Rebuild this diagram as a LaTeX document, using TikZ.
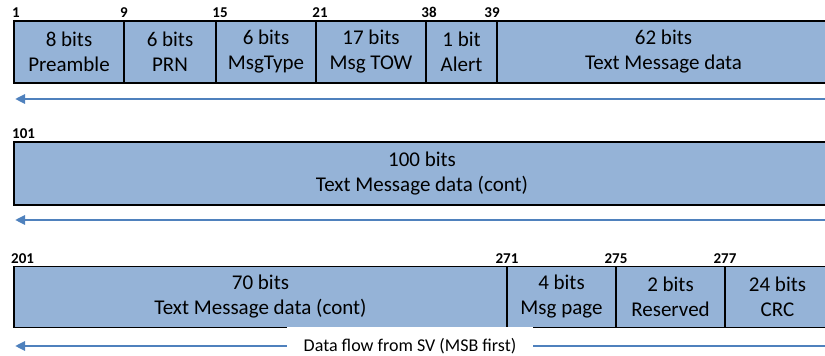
\documentclass[tikz,border=0pt]{standalone}
\usepackage{fontspec}
\setmainfont{Carlito}
\usetikzlibrary{positioning,arrows.meta}
\definecolor{fieldblue}{RGB}{149,179,215}
\definecolor{flowblue}{RGB}{79,129,189}

\begin{document}
\begin{tikzpicture}[
    x=1pt, y=1pt,
    field/.style={rectangle, draw=black, fill=fieldblue, line width=1.8pt, outer sep=0pt, minimum height=62pt, inner sep=0pt, align=center, font=\fontsize{21}{25}\selectfont},
    bitnum/.style={anchor=south, inner sep=0pt, font=\fontsize{15}{17}\bfseries\selectfont},
    flow/.style={draw=flowblue, line width=2.8pt, -{Triangle[length=10pt,width=9pt]}}
]
    \clip (0,0) rectangle (825,356);
    % row 1
    \node[field, minimum width=110pt, anchor=west] (pre) at (14,304) {8 bits\\Preamble};
    \node[field, minimum width=92pt, right=0pt of pre] (prn) {6 bits\\PRN};
    \node[field, minimum width=100pt, right=0pt of prn] (mtype) {6 bits\\MsgType};
    \node[field, minimum width=110pt, right=0pt of mtype] (tow) {17 bits\\Msg TOW};
    \node[field, minimum width=71pt, right=0pt of tow] (alert) {1 bit\\Alert};
    \node[field, minimum width=333pt, right=0pt of alert] (txt1) {62 bits\\Text Message data};

    \node[bitnum, anchor=south west] at ([xshift=-2pt,yshift=3pt]pre.north west) {1};
    \node[bitnum] at ([yshift=3pt]prn.north west) {9};
    \node[bitnum] at ([xshift=4pt,yshift=3pt]mtype.north west) {15};
    \node[bitnum] at ([xshift=4pt,yshift=3pt]tow.north west) {21};
    \node[bitnum] at ([xshift=3pt,yshift=3pt]alert.north west) {38};
    \node[bitnum] at ([xshift=-5pt,yshift=3pt]txt1.north west) {39};

    % row 2
    \node[field, minimum width=816pt, minimum height=63pt, anchor=west] (txt2) at (14,182.5) {100 bits\\Text Message data (cont)};
    \node[bitnum, anchor=south west] at ([xshift=-2pt,yshift=3pt]txt2.north west) {101};

    % row 3
    \node[field, minimum width=493pt, minimum height=61pt, anchor=west] (txt3) at (14,59) {70 bits\\Text Message data (cont)};
    \node[field, minimum width=109pt, minimum height=61pt, right=0pt of txt3] (page) {4 bits\\Msg page};
    \node[field, minimum width=109pt, minimum height=61pt, right=0pt of page] (resv) {2 bits\\Reserved};
    \node[field, minimum width=105pt, minimum height=61pt, right=0pt of resv] (crc) {24 bits\\CRC};

    \node[bitnum, anchor=south west] at ([xshift=-3pt,yshift=3pt]txt3.north west) {201};
    \node[bitnum] at ([yshift=3pt]page.north west) {271};
    \node[bitnum] at ([yshift=3pt]resv.north west) {275};
    \node[bitnum] at ([yshift=3pt]crc.north west) {277};

    % data flow arrows
    \coordinate (f1r) at (825,257);
    \coordinate (f1l) at (15,257);
    \coordinate (f2r) at (825,136);
    \coordinate (f2l) at (15,136);
    \coordinate (f3r) at (825,10);
    \coordinate (f3l) at (15,10);
    \draw[flow] (f1r) -- (f1l);
    \draw[flow] (f2r) -- (f2l);
    \draw[flow] (f3r) -- (f3l);
    \node[fill=white, minimum width=246pt, minimum height=38pt, font=\fontsize{18}{21}\selectfont] (flowlbl) at (410,10) {Data flow from SV (MSB first)};
\end{tikzpicture}
\end{document}
